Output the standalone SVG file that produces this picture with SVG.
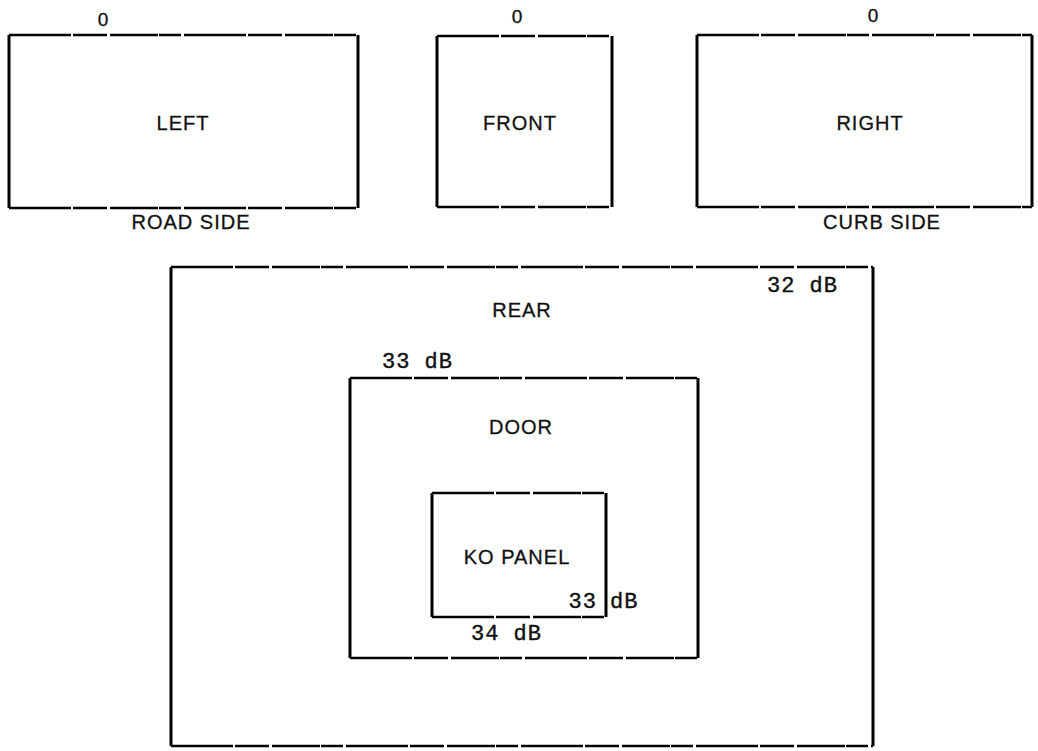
<svg xmlns="http://www.w3.org/2000/svg" width="1038" height="751" viewBox="0 0 1038 751">
<style>
.v{stroke:#000;stroke-width:3;fill:none}
.h{stroke:#000;stroke-width:2.5;fill:none;stroke-dasharray:62 2 34 3 48 1 22 3}
.lbl{font-family:"Liberation Sans",Arial,sans-serif;font-size:20px;fill:#111;text-anchor:middle;letter-spacing:1px;stroke:#111;stroke-width:0.3}
.zero{font-family:"Liberation Sans",Arial,sans-serif;font-size:19px;fill:#111;text-anchor:middle;stroke:#111;stroke-width:0.3}
.db{font-family:"Liberation Mono","Courier New",monospace;font-size:22px;fill:#111;letter-spacing:1px;stroke:#111;stroke-width:0.4}
</style>
<rect width="1038" height="751" fill="#fff"/>
<g id="left">
<path class="v" d="M9,35 V208 M358,35 V208"/>
<path class="h" d="M9,35 H358 M9,208 H358"/>
<text class="zero" x="103" y="26">0</text>
<text class="lbl" x="183" y="130">LEFT</text>
<text class="lbl" x="191" y="229">ROAD SIDE</text>
</g>
<g id="front">
<path class="v" d="M437,36 V207 M612,36 V207"/>
<path class="h" d="M437,36 H612 M437,207 H612"/>
<text class="zero" x="517" y="23">0</text>
<text class="lbl" x="520" y="130">FRONT</text>
</g>
<g id="right">
<path class="v" d="M697,35 V207 M1032,35 V207"/>
<path class="h" d="M697,35 H1032 M697,207 H1032"/>
<text class="zero" x="873" y="22">0</text>
<text class="lbl" x="870" y="130">RIGHT</text>
<text class="lbl" x="882" y="229">CURB SIDE</text>
</g>
<g id="rear">
<path class="v" d="M171,267 V746 M873,267 V746"/>
<path class="h" d="M171,267 H873 M171,746 H873"/>
<text class="lbl" x="522" y="317">REAR</text>
<text class="db" x="767" y="292">32 dB</text>
</g>
<g id="door">
<path class="v" d="M350,378 V658 M698,378 V658"/>
<path class="h" d="M350,378 H698 M350,658 H698"/>
<text class="lbl" x="521" y="434">DOOR</text>
<text class="db" x="382" y="368">33 dB</text>
<text class="db" x="471" y="640">34 dB</text>
</g>
<g id="ko-panel">
<path class="v" d="M432,493 V617 M606,493 V617"/>
<path class="h" d="M432,493 H606 M432,617 H606"/>
<text class="lbl" x="517" y="564">KO PANEL</text>
<text class="db" x="597" y="608" text-anchor="end">33</text>
<text class="db" x="610" y="608">dB</text>
</g>
<g id="connectors"></g>
</svg>
